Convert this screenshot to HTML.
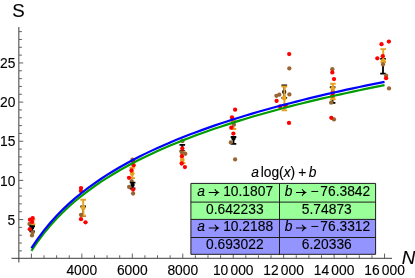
<!DOCTYPE html>
<html><head><meta charset="utf-8"><style>
html,body{margin:0;padding:0;background:#fff;}
body{width:415px;height:278px;overflow:hidden;}
svg{display:block;will-change:transform;}
text{font-family:"Liberation Sans",sans-serif;fill:#000;stroke:#000;stroke-width:0.12px;}
.t{font-size:13.8px;}
.c{font-size:13.8px;}
.i{font-style:italic;}
</style></head><body>
<svg width="415" height="278" viewBox="0 0 415 278">
<rect width="415" height="278" fill="#fff"/>
<line x1="11.5" y1="258.3" x2="392" y2="258.3" stroke="#3c3c3c" stroke-width="1"/>
<line x1="18.85" y1="27" x2="18.85" y2="262.5" stroke="#3c3c3c" stroke-width="1"/>
<line x1="31.40" y1="258.3" x2="31.40" y2="253.6" stroke="#606060" stroke-width="1"/>
<line x1="44.01" y1="258.3" x2="44.01" y2="255.3" stroke="#606060" stroke-width="1"/>
<line x1="56.62" y1="258.3" x2="56.62" y2="255.3" stroke="#606060" stroke-width="1"/>
<line x1="69.24" y1="258.3" x2="69.24" y2="255.3" stroke="#606060" stroke-width="1"/>
<line x1="81.85" y1="258.3" x2="81.85" y2="253.6" stroke="#606060" stroke-width="1"/>
<line x1="94.46" y1="258.3" x2="94.46" y2="255.3" stroke="#606060" stroke-width="1"/>
<line x1="107.07" y1="258.3" x2="107.07" y2="255.3" stroke="#606060" stroke-width="1"/>
<line x1="119.69" y1="258.3" x2="119.69" y2="255.3" stroke="#606060" stroke-width="1"/>
<line x1="132.30" y1="258.3" x2="132.30" y2="253.6" stroke="#606060" stroke-width="1"/>
<line x1="144.91" y1="258.3" x2="144.91" y2="255.3" stroke="#606060" stroke-width="1"/>
<line x1="157.53" y1="258.3" x2="157.53" y2="255.3" stroke="#606060" stroke-width="1"/>
<line x1="170.14" y1="258.3" x2="170.14" y2="255.3" stroke="#606060" stroke-width="1"/>
<line x1="182.75" y1="258.3" x2="182.75" y2="253.6" stroke="#606060" stroke-width="1"/>
<line x1="195.36" y1="258.3" x2="195.36" y2="255.3" stroke="#606060" stroke-width="1"/>
<line x1="207.98" y1="258.3" x2="207.98" y2="255.3" stroke="#606060" stroke-width="1"/>
<line x1="220.59" y1="258.3" x2="220.59" y2="255.3" stroke="#606060" stroke-width="1"/>
<line x1="233.20" y1="258.3" x2="233.20" y2="253.6" stroke="#606060" stroke-width="1"/>
<line x1="245.81" y1="258.3" x2="245.81" y2="255.3" stroke="#606060" stroke-width="1"/>
<line x1="258.43" y1="258.3" x2="258.43" y2="255.3" stroke="#606060" stroke-width="1"/>
<line x1="271.04" y1="258.3" x2="271.04" y2="255.3" stroke="#606060" stroke-width="1"/>
<line x1="283.65" y1="258.3" x2="283.65" y2="253.6" stroke="#606060" stroke-width="1"/>
<line x1="296.26" y1="258.3" x2="296.26" y2="255.3" stroke="#606060" stroke-width="1"/>
<line x1="308.88" y1="258.3" x2="308.88" y2="255.3" stroke="#606060" stroke-width="1"/>
<line x1="321.49" y1="258.3" x2="321.49" y2="255.3" stroke="#606060" stroke-width="1"/>
<line x1="334.10" y1="258.3" x2="334.10" y2="253.6" stroke="#606060" stroke-width="1"/>
<line x1="346.71" y1="258.3" x2="346.71" y2="255.3" stroke="#606060" stroke-width="1"/>
<line x1="359.32" y1="258.3" x2="359.32" y2="255.3" stroke="#606060" stroke-width="1"/>
<line x1="371.94" y1="258.3" x2="371.94" y2="255.3" stroke="#606060" stroke-width="1"/>
<line x1="384.55" y1="258.3" x2="384.55" y2="253.6" stroke="#606060" stroke-width="1"/>
<line x1="18.85" y1="250.87" x2="21.9" y2="250.87" stroke="#606060" stroke-width="1"/>
<line x1="18.85" y1="243.04" x2="21.9" y2="243.04" stroke="#606060" stroke-width="1"/>
<line x1="18.85" y1="235.21" x2="21.9" y2="235.21" stroke="#606060" stroke-width="1"/>
<line x1="18.85" y1="227.38" x2="21.9" y2="227.38" stroke="#606060" stroke-width="1"/>
<line x1="18.85" y1="219.55" x2="23.2" y2="219.55" stroke="#606060" stroke-width="1"/>
<line x1="18.85" y1="211.72" x2="21.9" y2="211.72" stroke="#606060" stroke-width="1"/>
<line x1="18.85" y1="203.89" x2="21.9" y2="203.89" stroke="#606060" stroke-width="1"/>
<line x1="18.85" y1="196.06" x2="21.9" y2="196.06" stroke="#606060" stroke-width="1"/>
<line x1="18.85" y1="188.23" x2="21.9" y2="188.23" stroke="#606060" stroke-width="1"/>
<line x1="18.85" y1="180.40" x2="23.2" y2="180.40" stroke="#606060" stroke-width="1"/>
<line x1="18.85" y1="172.57" x2="21.9" y2="172.57" stroke="#606060" stroke-width="1"/>
<line x1="18.85" y1="164.74" x2="21.9" y2="164.74" stroke="#606060" stroke-width="1"/>
<line x1="18.85" y1="156.91" x2="21.9" y2="156.91" stroke="#606060" stroke-width="1"/>
<line x1="18.85" y1="149.08" x2="21.9" y2="149.08" stroke="#606060" stroke-width="1"/>
<line x1="18.85" y1="141.25" x2="23.2" y2="141.25" stroke="#606060" stroke-width="1"/>
<line x1="18.85" y1="133.42" x2="21.9" y2="133.42" stroke="#606060" stroke-width="1"/>
<line x1="18.85" y1="125.59" x2="21.9" y2="125.59" stroke="#606060" stroke-width="1"/>
<line x1="18.85" y1="117.76" x2="21.9" y2="117.76" stroke="#606060" stroke-width="1"/>
<line x1="18.85" y1="109.93" x2="21.9" y2="109.93" stroke="#606060" stroke-width="1"/>
<line x1="18.85" y1="102.10" x2="23.2" y2="102.10" stroke="#606060" stroke-width="1"/>
<line x1="18.85" y1="94.27" x2="21.9" y2="94.27" stroke="#606060" stroke-width="1"/>
<line x1="18.85" y1="86.44" x2="21.9" y2="86.44" stroke="#606060" stroke-width="1"/>
<line x1="18.85" y1="78.61" x2="21.9" y2="78.61" stroke="#606060" stroke-width="1"/>
<line x1="18.85" y1="70.78" x2="21.9" y2="70.78" stroke="#606060" stroke-width="1"/>
<line x1="18.85" y1="62.95" x2="23.2" y2="62.95" stroke="#606060" stroke-width="1"/>
<line x1="18.85" y1="55.12" x2="21.9" y2="55.12" stroke="#606060" stroke-width="1"/>
<line x1="18.85" y1="47.29" x2="21.9" y2="47.29" stroke="#606060" stroke-width="1"/>
<line x1="18.85" y1="39.46" x2="21.9" y2="39.46" stroke="#606060" stroke-width="1"/>
<line x1="18.85" y1="31.63" x2="21.9" y2="31.63" stroke="#606060" stroke-width="1"/>
<text x="15.3" y="224.7" text-anchor="end" class="t">5</text>
<text x="15.3" y="185.6" text-anchor="end" class="t">10</text>
<text x="15.3" y="146.4" text-anchor="end" class="t">15</text>
<text x="15.3" y="107.3" text-anchor="end" class="t">20</text>
<text x="15.3" y="68.1" text-anchor="end" class="t">25</text>
<text x="81.8" y="274.6" text-anchor="middle" class="t">4000</text>
<text x="132.3" y="274.6" text-anchor="middle" class="t">6000</text>
<text x="182.8" y="274.6" text-anchor="middle" class="t">8000</text>
<text x="233.2" y="274.6" text-anchor="middle" class="t">10<tspan dx="2.2">000</tspan></text>
<text x="283.6" y="274.6" text-anchor="middle" class="t">12<tspan dx="2.2">000</tspan></text>
<text x="334.1" y="274.6" text-anchor="middle" class="t">14<tspan dx="2.2">000</tspan></text>
<text x="384.6" y="274.6" text-anchor="middle" class="t">16<tspan dx="2.2">000</tspan></text>
<text x="12.3" y="16.6" style="font-size:18.7px">S</text>
<text x="401.7" y="264.4" style="font-size:18.7px;font-style:italic">N</text>
<path d="M32.5,219.6 V224.3 M29.7,219.6 H35.3 M29.7,224.3 H35.3" stroke="#e8a020" stroke-width="1.9" fill="none"/>
<circle cx="29.5" cy="224.0" r="2.15" fill="#996633"/>
<circle cx="30.0" cy="219.7" r="2.15" fill="#ff0000"/>
<circle cx="32.7" cy="218.1" r="2.15" fill="#ff0000"/>
<circle cx="32.2" cy="221.9" r="2.15" fill="#ff0000"/>
<path d="M32.2,226.2 V231.4 M29.4,226.2 H35.0 M29.4,231.4 H35.0" stroke="#000000" stroke-width="1.8" fill="none"/>
<circle cx="32.2" cy="227.6" r="2.15" fill="#000000"/>
<circle cx="29.8" cy="229.2" r="2.15" fill="#ff0000"/>
<circle cx="32.7" cy="232.3" r="2.15" fill="#996633"/>
<circle cx="32.0" cy="235.4" r="2.15" fill="#996633"/>
<circle cx="81.0" cy="188.1" r="2.15" fill="#ff0000"/>
<circle cx="80.9" cy="191.0" r="2.15" fill="#ff0000"/>
<path d="M83.2,206.5 V215.8 M80.4,206.5 H86.0 M80.4,215.8 H86.0" stroke="#000000" stroke-width="1.8" fill="none"/>
<path d="M83.2,199.8 V215.8 M80.4,199.8 H86.0 M80.4,215.8 H86.0" stroke="#e8a020" stroke-width="1.9" fill="none"/>
<circle cx="83.2" cy="207.7" r="2.40" fill="#e8a020"/>
<circle cx="81.0" cy="214.8" r="2.15" fill="#996633"/>
<circle cx="81.0" cy="219.2" r="2.15" fill="#ff0000"/>
<circle cx="85.5" cy="222.3" r="2.15" fill="#ff0000"/>
<circle cx="132.5" cy="159.7" r="2.15" fill="#996633"/>
<circle cx="133.1" cy="161.3" r="2.15" fill="#ff0000"/>
<path d="M132.3,167.7 V178.1 M129.5,167.7 H135.1 M129.5,178.1 H135.1" stroke="#e8a020" stroke-width="1.9" fill="none"/>
<circle cx="132.2" cy="173.6" r="2.40" fill="#e8a020"/>
<circle cx="133.6" cy="165.2" r="2.15" fill="#ff0000"/>
<circle cx="131.5" cy="170.5" r="2.15" fill="#ff0000"/>
<circle cx="129.0" cy="177.8" r="2.15" fill="#ff0000"/>
<circle cx="131.7" cy="181.1" r="2.15" fill="#996633"/>
<path d="M132.6,182.7 V188.5 M129.8,182.7 H135.4 M129.8,188.5 H135.4" stroke="#000000" stroke-width="1.8" fill="none"/>
<circle cx="132.6" cy="185.0" r="2.15" fill="#000000"/>
<circle cx="129.1" cy="187.0" r="2.15" fill="#996633"/>
<circle cx="133.1" cy="193.5" r="2.15" fill="#996633"/>
<circle cx="133.1" cy="189.6" r="2.15" fill="#ff0000"/>
<circle cx="182.5" cy="141.0" r="2.15" fill="#996633"/>
<path d="M182.3,144.9 V151.2 M179.5,144.9 H185.1 M179.5,151.2 H185.1" stroke="#000000" stroke-width="1.8" fill="none"/>
<path d="M182.6,152.0 V163.0 M179.8,152.0 H185.4 M179.8,163.0 H185.4" stroke="#e8a020" stroke-width="1.9" fill="none"/>
<circle cx="182.3" cy="159.9" r="2.40" fill="#e8a020"/>
<circle cx="181.9" cy="152.6" r="2.15" fill="#996633"/>
<circle cx="185.3" cy="153.8" r="2.15" fill="#996633"/>
<circle cx="182.3" cy="148.5" r="2.15" fill="#ff0000"/>
<circle cx="181.9" cy="156.2" r="2.15" fill="#ff0000"/>
<circle cx="181.7" cy="163.5" r="2.15" fill="#ff0000"/>
<circle cx="184.9" cy="167.1" r="2.15" fill="#ff0000"/>
<circle cx="235.1" cy="109.7" r="2.15" fill="#ff0000"/>
<circle cx="232.0" cy="117.4" r="2.15" fill="#ff0000"/>
<path d="M233.5,121.0 V129.0 M230.7,121.0 H236.3 M230.7,129.0 H236.3" stroke="#e8a020" stroke-width="1.9" fill="none"/>
<circle cx="233.9" cy="124.7" r="2.15" fill="#996633"/>
<circle cx="231.3" cy="127.7" r="2.15" fill="#ff0000"/>
<path d="M233.5,137.0 V143.9 M230.7,137.0 H236.3 M230.7,143.9 H236.3" stroke="#000000" stroke-width="1.8" fill="none"/>
<circle cx="233.5" cy="138.6" r="2.15" fill="#000000"/>
<circle cx="233.4" cy="133.6" r="2.15" fill="#ff0000"/>
<circle cx="230.8" cy="142.4" r="2.15" fill="#996633"/>
<circle cx="235.1" cy="159.4" r="2.15" fill="#996633"/>
<circle cx="289.2" cy="54.1" r="2.15" fill="#ff0000"/>
<circle cx="289.3" cy="68.4" r="2.15" fill="#996633"/>
<path d="M284.3,85.3 V98.0 M281.5,85.3 H287.1 M281.5,98.0 H287.1" stroke="#000000" stroke-width="1.8" fill="none"/>
<circle cx="284.2" cy="91.9" r="2.15" fill="#000000"/>
<circle cx="276.4" cy="95.8" r="2.15" fill="#996633"/>
<circle cx="279.3" cy="94.7" r="2.15" fill="#996633"/>
<circle cx="289.4" cy="94.4" r="2.15" fill="#996633"/>
<path d="M284.4,86.5 V110.4 M281.6,86.5 H287.2 M281.6,110.4 H287.2" stroke="#e8a020" stroke-width="1.9" fill="none"/>
<circle cx="284.2" cy="98.2" r="2.40" fill="#e8a020"/>
<circle cx="276.6" cy="100.9" r="2.15" fill="#ff0000"/>
<circle cx="280.1" cy="106.5" r="2.15" fill="#ff0000"/>
<circle cx="285.8" cy="106.3" r="2.15" fill="#ff0000"/>
<circle cx="289.0" cy="122.9" r="2.15" fill="#ff0000"/>
<circle cx="332.3" cy="69.2" r="2.15" fill="#996633"/>
<circle cx="332.3" cy="72.4" r="2.15" fill="#ff0000"/>
<circle cx="334.0" cy="79.1" r="2.15" fill="#ff0000"/>
<path d="M332.6,87.2 V102.9 M329.8,87.2 H335.4 M329.8,102.9 H335.4" stroke="#000000" stroke-width="1.8" fill="none"/>
<circle cx="332.8" cy="91.5" r="2.15" fill="#996633"/>
<path d="M332.9,83.8 V99.4 M330.1,83.8 H335.7 M330.1,99.4 H335.7" stroke="#e8a020" stroke-width="1.9" fill="none"/>
<circle cx="332.8" cy="88.3" r="2.40" fill="#e8a020"/>
<circle cx="332.8" cy="97.6" r="2.40" fill="#e8a020"/>
<circle cx="332.6" cy="93.3" r="2.15" fill="#ff0000"/>
<circle cx="332.6" cy="95.6" r="2.15" fill="#ff0000"/>
<circle cx="331.2" cy="102.7" r="2.15" fill="#996633"/>
<circle cx="334.0" cy="119.4" r="2.15" fill="#996633"/>
<circle cx="331.3" cy="117.8" r="2.15" fill="#ff0000"/>
<circle cx="388.9" cy="41.6" r="2.15" fill="#ff0000"/>
<circle cx="381.5" cy="44.2" r="2.15" fill="#ff0000"/>
<circle cx="377.3" cy="58.3" r="2.15" fill="#ff0000"/>
<path d="M383.0,58.8 V73.7 M380.2,58.8 H385.8 M380.2,73.7 H385.8" stroke="#000000" stroke-width="1.8" fill="none"/>
<path d="M383.2,49.1 V62.2 M380.4,49.1 H386.0 M380.4,62.2 H386.0" stroke="#e8a020" stroke-width="1.9" fill="none"/>
<circle cx="383.3" cy="60.8" r="2.40" fill="#e8a020"/>
<circle cx="382.8" cy="56.2" r="2.15" fill="#ff0000"/>
<circle cx="383.0" cy="64.4" r="2.15" fill="#996633"/>
<circle cx="386.1" cy="75.6" r="2.15" fill="#996633"/>
<circle cx="386.1" cy="78.2" r="2.15" fill="#ff0000"/>
<circle cx="389.0" cy="88.4" r="2.15" fill="#996633"/>
<path d="M31.40,250.88 L37.71,241.49 L44.01,233.10 L50.32,225.50 L56.62,218.56 L62.93,212.18 L69.24,206.27 L75.54,200.77 L81.85,195.63 L88.16,190.80 L94.46,186.24 L100.77,181.93 L107.07,177.84 L113.38,173.95 L119.69,170.24 L125.99,166.70 L132.30,163.31 L138.61,160.05 L144.91,156.93 L151.22,153.92 L157.53,151.02 L163.83,148.22 L170.14,145.52 L176.44,142.91 L182.75,140.37 L189.06,137.92 L195.36,135.54 L201.67,133.23 L207.98,130.99 L214.28,128.80 L220.59,126.68 L226.89,124.61 L233.20,122.59 L239.51,120.62 L245.81,118.70 L252.12,116.82 L258.43,114.99 L264.73,113.20 L271.04,111.45 L277.34,109.73 L283.65,108.05 L289.96,106.41 L296.26,104.80 L302.57,103.22 L308.88,101.67 L315.18,100.15 L321.49,98.66 L327.79,97.20 L334.10,95.77 L340.41,94.35 L346.71,92.97 L353.02,91.61 L359.32,90.27 L365.63,88.95 L371.94,87.65 L378.24,86.38 L384.55,85.12" stroke="#009c00" stroke-width="2.2" fill="none"/>
<path d="M31.40,248.20 L37.71,238.78 L44.01,230.35 L50.32,222.72 L56.62,215.76 L62.93,209.35 L69.24,203.42 L75.54,197.90 L81.85,192.74 L88.16,187.89 L94.46,183.32 L100.77,178.99 L107.07,174.89 L113.38,170.98 L119.69,167.26 L125.99,163.70 L132.30,160.30 L138.61,157.03 L144.91,153.89 L151.22,150.87 L157.53,147.96 L163.83,145.16 L170.14,142.44 L176.44,139.82 L182.75,137.28 L189.06,134.82 L195.36,132.43 L201.67,130.11 L207.98,127.85 L214.28,125.66 L220.59,123.53 L226.89,121.45 L233.20,119.42 L239.51,117.45 L245.81,115.52 L252.12,113.64 L258.43,111.80 L264.73,110.00 L271.04,108.24 L277.34,106.52 L283.65,104.84 L289.96,103.19 L296.26,101.57 L302.57,99.99 L308.88,98.43 L315.18,96.91 L321.49,95.41 L327.79,93.94 L334.10,92.50 L340.41,91.09 L346.71,89.69 L353.02,88.33 L359.32,86.98 L365.63,85.66 L371.94,84.36 L378.24,83.08 L384.55,81.82" stroke="#0000ff" stroke-width="2.2" fill="none"/>
<!-- table -->
<g>
<rect x="190.9" y="183.4" width="184.7" height="36.0" fill="#99ff99"/>
<rect x="190.9" y="219.4" width="184.7" height="34.9" fill="#9494ff"/>
<path d="M190.9,183.4 H375.6 V254.3 H190.9 Z M190.9,202.1 H375.6 M190.9,219.4 H375.6 M190.9,237.5 H375.6 M279.5,183.4 V254.3" stroke="#1c1c1c" stroke-width="1" fill="none"/>
<text y="176.8" class="c"><tspan x="251.2" class="i">a</tspan><tspan x="260.7">log(</tspan><tspan class="i">x</tspan>)<tspan x="298.3">+</tspan><tspan x="308.8" class="i">b</tspan></text>
<text y="195.8" class="c"><tspan x="197.3" class="i">a</tspan><tspan x="223.2">10.1807</tspan><tspan x="284.8" class="i">b</tspan><tspan x="310.4">−</tspan><tspan x="320.3">76.3842</tspan></text>
<path d="M208.7,192.5 H218.1 M214.8,189.3 Q216.0,191.6 218.3,192.5 Q216.0,193.4 214.8,195.7" stroke="#000" stroke-width="1.05" fill="none"/>
<path d="M296.0,192.5 H305.4 M302.1,189.3 Q303.3,191.6 305.6,192.5 Q303.3,193.4 302.1,195.7" stroke="#000" stroke-width="1.05" fill="none"/>
<text y="213.5" class="c" text-anchor="middle"><tspan x="234.8">0.642233</tspan><tspan x="326.8">5.74873</tspan></text>
<text y="231.3" class="c"><tspan x="197.3" class="i">a</tspan><tspan x="223.2">10.2188</tspan><tspan x="284.8" class="i">b</tspan><tspan x="310.4">−</tspan><tspan x="320.3">76.3312</tspan></text>
<path d="M208.7,228.0 H218.1 M214.8,224.8 Q216.0,227.1 218.3,228.0 Q216.0,228.9 214.8,231.2" stroke="#000" stroke-width="1.05" fill="none"/>
<path d="M296.0,228.0 H305.4 M302.1,224.8 Q303.3,227.1 305.6,228.0 Q303.3,228.9 302.1,231.2" stroke="#000" stroke-width="1.05" fill="none"/>
<text y="249.0" class="c" text-anchor="middle"><tspan x="234.8">0.693022</tspan><tspan x="326.8">6.20336</tspan></text>
</g>
</svg>
</body></html>
